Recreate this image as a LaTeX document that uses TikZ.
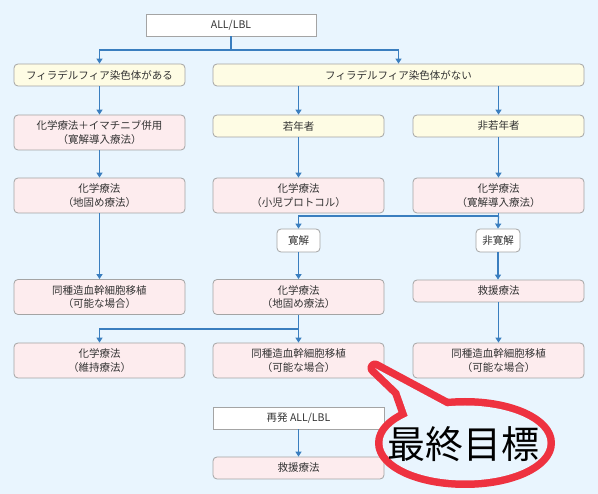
\documentclass[tikz,border=0pt]{standalone}
\usepackage{fontspec}
\setmainfont{Noto Sans CJK JP}
\usetikzlibrary{arrows.meta}
\definecolor{bg}{HTML}{E9F5FE}
\definecolor{pinkfill}{HTML}{FDECEE}
\definecolor{yelfill}{HTML}{FEFCE4}
\definecolor{boxline}{HTML}{A4A4A4}
\definecolor{linecol}{HTML}{3A7EBF}
\definecolor{txt}{HTML}{333333}
\definecolor{callred}{HTML}{EE3240}
\begin{document}
\begin{tikzpicture}[x=1pt,y=-1pt,
  box/.style={draw=boxline, line width=0.8pt, inner sep=0pt, align=center,
    font=\fontsize{10.5}{13.5}\selectfont, text=txt, minimum width=171pt},
  pinkbox/.style={box, rounded corners=4pt, fill=pinkfill, minimum height=35pt},
  pinkone/.style={box, rounded corners=4pt, fill=pinkfill, minimum height=22pt},
  yelbox/.style={box, rounded corners=4pt, fill=yelfill, minimum height=22pt},
  whitebox/.style={box, fill=white, minimum height=22pt},
  smallbox/.style={box, rounded corners=4pt, fill=white, minimum width=44pt, minimum height=23pt},
  conn/.style={draw=linecol, line width=1.2pt, -{Triangle[width=6pt,length=5pt]}},
]
\fill[bg] (0,0) rectangle (598,494);
\useasboundingbox (0,0) rectangle (598,494);

% row 0
\node[whitebox, minimum width=170pt] (all) at (231,25) {ALL/LBL};
% row 1
\node[yelbox] (ph1) at (99.5,75) {フィラデルフィア染色体がある};
\node[yelbox, minimum width=371pt] (ph0) at (398.5,75) {フィラデルフィア染色体がない};
% row 2
\node[pinkbox] (a2) at (99.5,132.5) {化学療法＋イマチニブ併用\\（寛解導入療法）};
\node[yelbox] (y1) at (298.5,126) {若年者};
\node[yelbox] (y2) at (498.5,126) {非若年者};
% row 3
\node[pinkbox] (a3) at (99.5,195.5) {化学療法\\（地固め療法）};
\node[pinkbox] (b3) at (298.5,195.5) {化学療法\\（小児プロトコル）};
\node[pinkbox] (c3) at (498.5,195.5) {化学療法\\（寛解導入療法）};
% remission
\node[smallbox, minimum width=43pt] (kan) at (298.5,240.5) {寛解};
\node[smallbox] (hikan) at (498,240.5) {非寛解};
% row 4
\node[pinkbox] (a4) at (99.5,297) {同種造血幹細胞移植\\（可能な場合）};
\node[pinkbox] (b4) at (298.5,297) {化学療法\\（地固め療法）};
\node[pinkone] (c4) at (498.5,291) {救援療法};
% row 5
\node[pinkbox] (a5) at (99.5,360.5) {化学療法\\（維持療法）};
\node[pinkbox] (b5) at (298.5,360.5) {同種造血幹細胞移植\\（可能な場合）};
\node[pinkbox] (c5) at (498.5,360.5) {同種造血幹細胞移植\\（可能な場合）};
% relapse
\node[whitebox] (re) at (298.5,418) {再発 ALL/LBL};
\node[pinkone] (kyu) at (298.5,468) {救援療法};

% connectors
\coordinate (j1) at (231,50);
\coordinate (j2) at (498.5,216);
\coordinate (j3) at (298.5,329);
\draw[conn] (all.south) -- (j1) -| (ph1.north);
\draw[conn] (j1) -| (ph0.north);
\draw[conn] (ph1) -- (a2);
\draw[conn] (a2) -- (a3);
\draw[conn] (a3) -- (a4);
\draw[conn] (ph0.south -| y1.north) -- (y1.north);
\draw[conn] (ph0.south -| y2.north) -- (y2.north);
\draw[conn] (y1) -- (b3);
\draw[conn] (y2) -- (c3);
\draw[conn] (c3.south) -- (j2) -| (kan.north);
\draw[conn] (j2) -- (hikan.north);
\draw[conn] (kan) -- (b4);
\draw[conn] (hikan.south) -- (hikan.south |- c4.north);
\draw[conn] (b4.south) -- (j3) -| (a5.north);
\draw[conn] (j3) -- (b5.north);
\draw[conn] (c4) -- (c5);
\draw[conn] (re) -- (kyu);

% callout
\draw[callred, line width=15pt, line join=round] (465,443) ellipse [x radius=82.5pt, y radius=37.5pt];
\draw[callred, line width=15pt, line join=round] (375,368) -- (399,391) -- (418,445) -- (472,420) -- cycle;
\fill[bg] (465,443) ellipse [x radius=82.5pt, y radius=37.5pt];
\fill[bg] (375,368) -- (399,391) -- (418,445) -- (472,420) -- cycle;
\node[font=\fontsize{38}{40}\selectfont, text=black, inner sep=0pt] (goal) at (463,444) {最終目標};
\end{tikzpicture}
\end{document}
